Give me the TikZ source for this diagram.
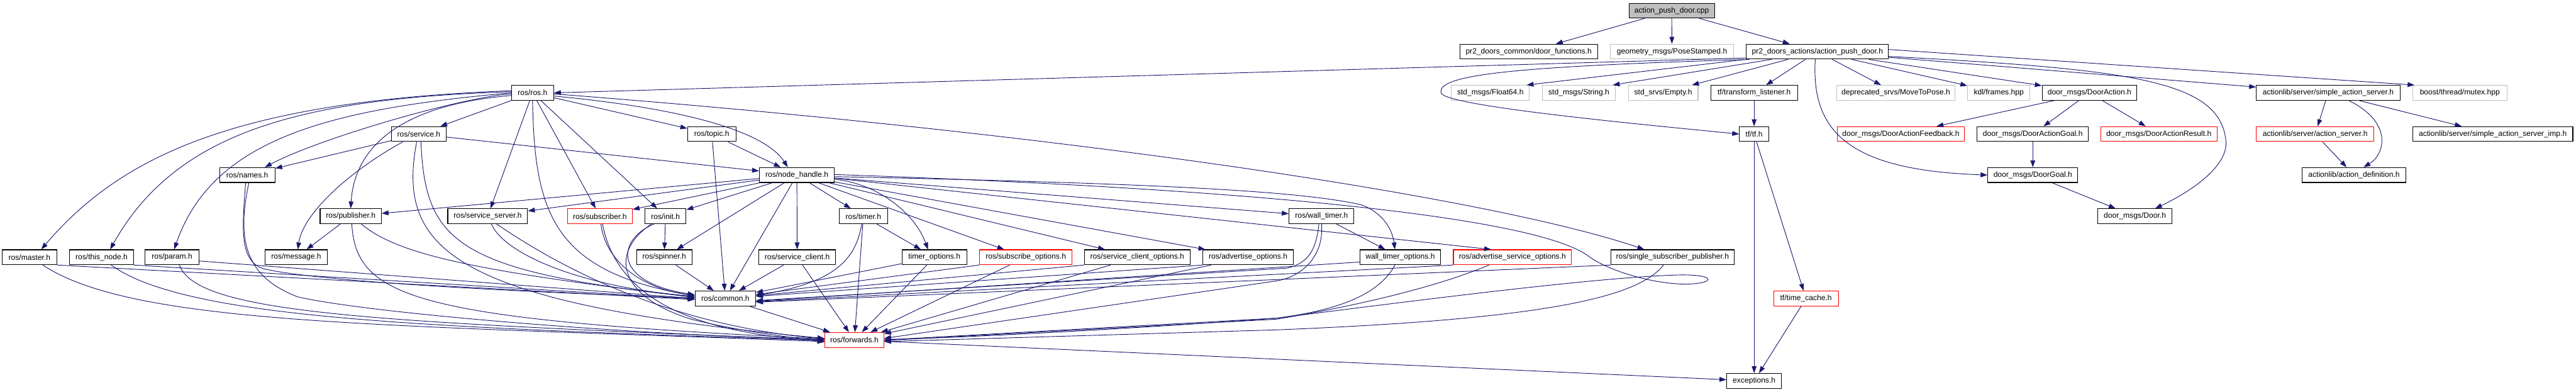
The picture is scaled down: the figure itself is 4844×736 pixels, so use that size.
\documentclass[tikz,border=0pt]{standalone}
\usepackage{fontspec}
\setmainfont{Liberation Sans}
\usetikzlibrary{arrows.meta}
\definecolor{edgeblue}{HTML}{191970}
\definecolor{grayb}{HTML}{BFBFBF}
\definecolor{redb}{HTML}{FF0000}
\newcommand{\myhdrfont}{\fontsize{14.3}{17}\selectfont}
\begin{document}
\begin{tikzpicture}[x=1pt,y=-1pt,
 nb/.style={draw=black, line width=1.3pt, minimum height=28pt, inner sep=1pt, font=\myhdrfont, text=black},
 nr/.style={nb, draw=redb},
 ng/.style={nb, draw=grayb},
 e/.style={draw=edgeblue, line width=1.1pt, -{Triangle[length=13pt,width=9pt]}}]
\fill[white] (0,0) rectangle (4844,736);
\useasboundingbox (0,0) rectangle (4844,736);
% row 0
\node[nb, fill=grayb, minimum width=161pt] (main) at (3143.5,20) {action\_push\_door.cpp};
% row 1
\node[nb, minimum width=259pt] (dfun) at (2874.5,97) {pr2\_doors\_common/door\_functions.h};
\node[ng, minimum width=232pt] (pose) at (3144,97) {geometry\_msgs/PoseStamped.h};
\node[nb, minimum width=267pt] (apdh) at (3417.5,97) {pr2\_doors\_actions/action\_push\_door.h};
% row 2
\node[nb, minimum width=79pt] (rosh) at (1001.5,174.5) {ros/ros.h};
\node[ng, minimum width=147pt] (f64) at (2802.5,174.5) {std\_msgs/Float64.h};
\node[ng, minimum width=138pt] (str) at (2969,174.5) {std\_msgs/String.h};
\node[ng, minimum width=131pt] (empty) at (3127.5,174.5) {std\_srvs/Empty.h};
\node[nb, minimum width=163pt] (tfl) at (3298.5,174.5) {tf/transform\_listener.h};
\node[ng, minimum width=222pt] (mtp) at (3565,174.5) {deprecated\_srvs/MoveToPose.h};
\node[ng, minimum width=117pt] (kdl) at (3758.5,174.5) {kdl/frames.hpp};
\node[nb, minimum width=178pt] (da) at (3929,174.5) {door\_msgs/DoorAction.h};
\node[nb, minimum width=270pt] (sas) at (4378,174.5) {actionlib/server/simple\_action\_server.h};
\node[ng, minimum width=177pt] (mutex) at (4625.5,174.5) {boost/thread/mutex.hpp};
% row 3
\node[nb, minimum width=103pt] (srv) at (787.5,252) {ros/service.h};
\node[nb, minimum width=91pt] (topic) at (1338.5,252) {ros/topic.h};
\node[nb, minimum width=55pt] (tf) at (3298.5,252) {tf/tf.h};
\node[nr, minimum width=239pt] (daf) at (3574.5,252) {door\_msgs/DoorActionFeedback.h};
\node[nb, minimum width=209pt] (dag) at (3822.5,252) {door\_msgs/DoorActionGoal.h};
\node[nr, minimum width=219pt] (dar) at (4059.5,252) {door\_msgs/DoorActionResult.h};
\node[nr, minimum width=221pt] (as) at (4353.5,252) {actionlib/server/action\_server.h};
\node[nb, minimum width=301pt] (sasi) at (4687.5,252) {actionlib/server/simple\_action\_server\_imp.h};
% row 4
\node[nb, minimum width=104pt] (names) at (465,329) {ros/names.h};
\node[nb, minimum width=141pt] (nh) at (1498.5,329) {ros/node\_handle.h};
\node[nb, minimum width=169pt] (dg) at (3822.5,329) {door\_msgs/DoorGoal.h};
\node[nb, minimum width=195pt] (adef) at (4426.5,329) {actionlib/action\_definition.h};
% row 5
\node[nb, minimum width=115pt] (pub) at (659.5,406.5) {ros/publisher.h};
\node[nb, minimum width=150pt] (ssrv) at (917,406.5) {ros/service\_server.h};
\node[nr, minimum width=122pt] (sub) at (1128,406.5) {ros/subscriber.h};
\node[nb, minimum width=77pt] (init) at (1251.5,406.5) {ros/init.h};
\node[nb, minimum width=91pt] (timer) at (1623.5,406.5) {ros/timer.h};
\node[nb, minimum width=122pt] (wt) at (2485,406.5) {ros/wall\_timer.h};
\node[nb, minimum width=139pt] (door) at (4014.5,406.5) {door\_msgs/Door.h};
% row 6
\node[nb, minimum width=103pt] (master) at (55.5,483.5) {ros/master.h};
\node[nb, minimum width=120pt] (thisn) at (191,483.5) {ros/this\_node.h};
\node[nb, minimum width=101pt] (param) at (323.5,483.5) {ros/param.h};
\node[nb, minimum width=118pt] (msg) at (557,483.5) {ros/message.h};
\node[nb, minimum width=104pt] (spin) at (1249,483.5) {ros/spinner.h};
\node[nb, minimum width=144pt] (sc) at (1499,483.5) {ros/service\_client.h};
\node[nb, minimum width=122pt] (to) at (1757,483.5) {timer\_options.h};
\node[nr, minimum width=174pt] (so) at (1929,483.5) {ros/subscribe\_options.h};
\node[nb, minimum width=199pt] (sco) at (2138.5,483.5) {ros/service\_client\_options.h};
\node[nb, minimum width=170pt] (ao) at (2347,483.5) {ros/advertise\_options.h};
\node[nb, minimum width=152pt] (wto) at (2633,483.5) {wall\_timer\_options.h};
\node[nr, minimum width=222pt] (aso) at (2844,483.5) {ros/advertise\_service\_options.h};
\node[nb, minimum width=232pt] (ssp) at (3145,483.5) {ros/single\_subscriber\_publisher.h};
% row 7-9
\node[nb, minimum width=114pt] (common) at (1364,561) {ros/common.h};
\node[nr, minimum width=122pt] (tc) at (3396,561) {tf/time\_cache.h};
\node[nr, minimum width=111pt] (fwd) at (1606.5,639) {ros/forwards.h};
\node[nb, minimum width=103pt] (exc) at (3298.5,716) {exceptions.h};

% main
\draw[e] (main) -- (dfun);
\draw[e] (main) -- (pose);
\draw[e] (main) -- (apdh);
% action_push_door.h
\draw[e] ([yshift=-12pt]apdh.west) -- (rosh.east);
\draw[e] (apdh.south west) -- ([xshift=-6pt]f64.north east);
\draw[e] ([xshift=48pt]apdh.south west) -- ([xshift=-6pt]str.north east);
\draw[e] ([xshift=79pt]apdh.south west) -- ([xshift=-12pt]empty.north east);
\draw[e] (apdh) -- (tfl);
\draw[e] (apdh) -- (mtp);
\draw[e] (apdh) -- (kdl);
\draw[e] (apdh) -- (da);
\draw[e] (apdh) -- (sas);
\draw[e] ([yshift=4pt]apdh.east) -- ([xshift=4pt]mutex.north west);
\draw[e] ([xshift=6pt]apdh.south west) .. controls (2850,125) and (2700,140) .. (2710,175) .. controls (2720,200) and (3100,235) .. (tf.west);
\draw[e] ([xshift=-4pt]apdh.south) .. controls (3405,250) and (3480,320) .. (dg.west);
\draw[e] ([yshift=-9pt]apdh.east) .. controls (4000,130) and (4170,150) .. (4185,260) .. controls (4195,310) and (4120,360) .. ([xshift=38pt]door.north);
% actionlib / door_msgs / tf
\draw[e] (sas) -- (as);
\draw[e] (sas) -- (sasi);
\draw[e] ([xshift=39pt]sas.south) .. controls (4500,230) and (4485,290) .. ([xshift=18pt]adef.north);
\draw[e] (as) -- (adef);
\draw[e] (da) -- (daf);
\draw[e] (da) -- (dag);
\draw[e] (da) -- (dar);
\draw[e] (dag) -- (dg);
\draw[e] (dg) -- (door);
\draw[e] (tfl) -- (tf);
\draw[e] (tf) -- (exc);
\draw[e] (tf) -- (tc);
\draw[e] (tc) -- (exc);
\draw[e] (fwd) -- (exc);
% ros/ros.h
\draw[e] ([yshift=4pt]rosh.west) .. controls (450,190) and (230,290) .. ([xshift=22pt]master.north);
\draw[e] ([yshift=2pt]rosh.west) .. controls (560,185) and (330,250) .. ([xshift=16pt]thisn.north);
\draw[e] (rosh.west) .. controls (620,205) and (400,260) .. ([xshift=4pt]param.north);
\draw[e] ([yshift=-2pt]rosh.west) .. controls (870,182) and (600,260) .. ([xshift=33pt]names.north);
\draw[e] ([yshift=-5pt]rosh.west) .. controls (720,200) and (665,300) .. (pub.north);
\draw[e] (rosh) -- (srv);
\draw[e] (rosh) -- (topic);
\draw[e] ([yshift=-6pt]rosh.east) .. controls (1300,205) and (1440,250) .. ([xshift=-17pt]nh.north);
\draw[e] ([yshift=-2pt]rosh.east) .. controls (2000,250) and (2800,370) .. ([xshift=-53pt]ssp.north);
\draw[e] (rosh) -- (ssrv);
\draw[e] (rosh.south) .. controls (1005,400) and (1040,510) .. ([yshift=5pt]common.west);
\draw[e] (rosh) -- (sub);
\draw[e] (rosh) -- (init);
% ros/service.h
\draw[e] (srv) -- (names);
\draw[e] (srv) -- (nh);
\draw[e] ([xshift=-30pt]srv.south) .. controls (660,320) and (570,400) .. ([xshift=3pt]msg.north);
\draw[e] ([xshift=4pt]srv.south) .. controls (800,450) and (850,510) .. ([yshift=3pt]common.west);
\draw[e] ([xshift=-4pt]srv.south) .. controls (745,470) and (850,570) .. ([yshift=3pt]fwd.west);
% left nodes
\draw[e] (master.south east) -- ([yshift=-2pt]common.west);
\draw[e] ([xshift=25pt]master.south) .. controls (250,610) and (700,610) .. ([yshift=-3pt]fwd.west);
\draw[e] (thisn.south east) -- ([yshift=-1pt]common.west);
\draw[e] ([xshift=18pt]thisn.south) .. controls (350,600) and (800,615) .. ([yshift=-1pt]fwd.west);
\draw[e] ([yshift=-7pt]param.east) -- ([yshift=0pt]common.west);
\draw[e] ([xshift=14pt]param.south) .. controls (370,590) and (700,605) .. (fwd.west);
\draw[e] ([xshift=-3pt]names.south) .. controls (455,430) and (450,490) .. (495,505) .. controls (600,530) and (1000,550) .. ([yshift=1pt]common.west);
\draw[e] ([xshift=3pt]names.south) .. controls (445,450) and (460,520) .. (560,558) .. controls (700,590) and (1200,630) .. ([yshift=1pt]fwd.west);
\draw[e] (pub) -- (msg);
\draw[e] ([xshift=20pt]pub.south) .. controls (750,480) and (900,510) .. ([yshift=2pt]common.west);
\draw[e] ([xshift=2pt]pub.south) .. controls (670,560) and (780,600) .. ([yshift=2pt]fwd.west);
\draw[e] ([xshift=7pt]ssrv.south) .. controls (950,480) and (1100,540) .. ([yshift=4pt]common.west);
\draw[e] ([xshift=17pt]ssrv.south) .. controls (1050,500) and (1250,610) .. ([yshift=2pt]fwd.west);
\draw[e] ([xshift=2pt]sub.south) .. controls (1140,500) and (1220,545) .. ([yshift=6pt]common.west);
\draw[e] ([xshift=5pt]sub.south) .. controls (1160,560) and (1300,625) .. ([yshift=-2pt]fwd.west);
\draw[e] (init) -- (spin);
\draw[e] ([xshift=-22pt]init.south) .. controls (1160,450) and (1150,530) .. ([yshift=7pt]common.west);
\draw[e] ([xshift=-27pt]init.south) .. controls (1140,480) and (1170,560) .. (1300,600) .. controls (1400,625) and (1500,635) .. ([yshift=-4pt]fwd.west);
\draw[e] (spin) -- (common);
\draw[e] (topic) -- (common);
\draw[e] (topic) -- (nh);
% ros/node_handle.h
\draw[e] (nh) -- (pub);
\draw[e] (nh) -- (ssrv);
\draw[e] (nh) -- (sub);
\draw[e] (nh) -- (init);
\draw[e] (nh) -- (spin);
\draw[e] (nh) -- (common);
\draw[e] (nh) -- (sc);
\draw[e] (nh) -- (timer);
\draw[e] ([yshift=-8pt]nh.east) .. controls (1650,345) and (1720,400) .. ([xshift=-12pt]to.north);
\draw[e] (nh) -- (so);
\draw[e] (nh) -- (sco);
\draw[e] (nh) -- (ao);
\draw[e] (nh) -- (wt);
\draw[e] ([yshift=-3pt]nh.east) .. controls (2200,345) and (2450,360) .. (2560,385) .. controls (2600,400) and (2618,430) .. ([xshift=-10pt]wto.north);
\draw[e] ([yshift=-6pt]nh.east) -- ([xshift=-40pt]aso.north);
\draw[e] ([yshift=1pt]nh.east) .. controls (2500,360) and (2900,420) .. (2985,480) .. controls (3030,515) and (3150,545) .. (3205,530) .. controls (3225,523) and (3200,515) .. (3150,517) .. controls (3000,522) and (2700,560) .. (2400,598) .. controls (2100,620) and (1800,635) .. ([yshift=1pt]fwd.east);
% right nodes to common / forwards
\draw[e] (sc) -- (common);
\draw[e] (sc) -- (fwd);
\draw[e] ([xshift=-3pt]timer.south) .. controls (1610,480) and (1580,530) .. ([yshift=6pt]common.east);
\draw[e] (timer) -- (fwd);
\draw[e] (timer) -- (to);
\draw[e] (to) -- (common);
\draw[e] (to) -- (fwd);
\draw[e] (so.south west) -- (common);
\draw[e] (so) -- (fwd);
\draw[e] (sco.south west) -- (common);
\draw[e] (sco) -- (fwd);
\draw[e] (ao.south west) -- (common);
\draw[e] (ao) -- (fwd);
\draw[e] ([xshift=-5pt]wt.south) .. controls (2475,470) and (2460,495) .. (2420,504) -- ([yshift=-4pt]common.east);
\draw[e] (wt.south) .. controls (2490,480) and (2450,520) .. (2400,528) -- ([yshift=3pt]fwd.east);
\draw[e] (wt) -- (wto);
\draw[e] ([yshift=-9pt]wto.west) -- ([yshift=-5pt]common.east);
\draw[e] ([xshift=-10pt]wto.south) .. controls (2590,560) and (2500,585) .. (2400,598) -- ([yshift=0pt]fwd.east);
\draw[e] (aso.south west) -- ([yshift=-6pt]common.east);
\draw[e] ([xshift=-44pt]aso.south) .. controls (2700,540) and (2550,575) .. (2400,600) -- ([yshift=-1pt]fwd.east);
\draw[e] (ssp.south west) -- ([yshift=-7pt]common.east);
\draw[e] ([xshift=-17pt]ssp.south) .. controls (3080,560) and (2900,600) .. (2400,620) -- ([yshift=-3pt]fwd.east);
\draw[e] (common) -- (fwd);
\end{tikzpicture}
\end{document}
